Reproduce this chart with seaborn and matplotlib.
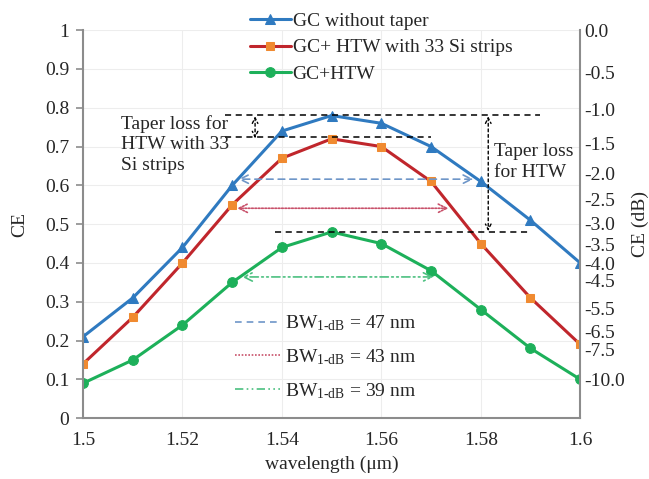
import numpy as np
import pandas as pd
import matplotlib
matplotlib.use("Agg")
import matplotlib.pyplot as plt
import seaborn as sns
from matplotlib.lines import Line2D

# ---- data ----
wavelength = [1.50, 1.51, 1.52, 1.53, 1.54, 1.55, 1.56, 1.57, 1.58, 1.59, 1.60]
ce_no_taper = [0.21, 0.31, 0.44, 0.60, 0.74, 0.78, 0.76, 0.70, 0.61, 0.51, 0.40]
ce_htw_strips = [0.14, 0.26, 0.40, 0.55, 0.67, 0.72, 0.70, 0.61, 0.45, 0.31, 0.19]
ce_htw = [0.09, 0.15, 0.24, 0.35, 0.44, 0.48, 0.45, 0.38, 0.28, 0.18, 0.10]
series_labels = ["GC without taper", "GC+ HTW with 33 Si strips", "GC+HTW"]

db_ticks = [0.0, -0.5, -1.0, -1.5, -2.0, -2.5, -3.0, -3.5, -4.0, -4.5, -5.5, -6.5, -7.5, -10.0]
x_ticks = [1.50, 1.52, 1.54, 1.56, 1.58, 1.60]
x_tick_labels = ["1.5", "1.52", "1.54", "1.56", "1.58", "1.6"]
y_ticks = [0, 0.1, 0.2, 0.3, 0.4, 0.5, 0.6, 0.7, 0.8, 0.9, 1.0]
y_tick_labels = ["0", "0.1", "0.2", "0.3", "0.4", "0.5", "0.6", "0.7", "0.8", "0.9", "1"]

# bandwidth arrows: (x_start, x_end, y)
bw_47 = (1.5312, 1.5785, 0.616)
bw_43 = (1.5310, 1.5735, 0.541)
bw_39 = (1.5320, 1.5705, 0.364)
bw_labels = [r"BW$_{\mathrm{1}\text{-}\mathrm{dB}}$ = 47 nm",
             r"BW$_{\mathrm{1}\text{-}\mathrm{dB}}$ = 43 nm",
             r"BW$_{\mathrm{1}\text{-}\mathrm{dB}}$ = 39 nm"]

# taper loss reference levels
level_top = 0.781
level_mid = 0.724
level_low = 0.479

# ---- style ----
sns.set_style("white")
plt.rcParams["font.family"] = ["Liberation Serif", "DejaVu Serif"]
plt.rcParams["mathtext.fontset"] = "custom"
plt.rcParams["mathtext.rm"] = "Liberation Serif"
plt.rcParams["mathtext.it"] = "Liberation Serif:italic"

blue = "#2F7AC0"
red = "#C0262C"
orange = "#F08A30"
green = "#1DB05A"
spine_c = "#8C8C8C"
grid_c = "#EDEDED"
FS = 14

fig = plt.figure(figsize=(6.49, 4.79), dpi=100)
ax = fig.add_axes([0.128, 0.127, 0.766, 0.810])

df = pd.DataFrame({"wl": wavelength, "a": ce_no_taper, "b": ce_htw_strips, "c": ce_htw})
sns.lineplot(data=df, x="wl", y="a", ax=ax, color=blue, lw=2.2, marker="^",
             markersize=6.5, markeredgecolor=blue, markerfacecolor=blue, label=series_labels[0])
sns.lineplot(data=df, x="wl", y="b", ax=ax, color=red, lw=2.2, marker="s",
             markersize=6, markeredgecolor=orange, markerfacecolor=orange, label=series_labels[1])
sns.lineplot(data=df, x="wl", y="c", ax=ax, color=green, lw=2.2, marker="o",
             markersize=7, markeredgecolor=green, markerfacecolor=green, label=series_labels[2])

ax.set_xlim(1.5, 1.6)
ax.set_ylim(0, 1)
ax.set_xticks(x_ticks)
ax.set_xticklabels(x_tick_labels, fontsize=FS)
ax.set_yticks(y_ticks)
ax.set_yticklabels(y_tick_labels, fontsize=FS)
ax.grid(True, color=grid_c, lw=0.8)
ax.set_axisbelow(True)
ax.set_xlabel("wavelength (\u03bcm)", fontsize=FS, labelpad=5)
ax.set_ylabel("CE", fontsize=FS, labelpad=12)
for s in ["top", "right"]:
    ax.spines[s].set_visible(False)
for s in ["left", "bottom"]:
    ax.spines[s].set_color(spine_c)
    ax.spines[s].set_linewidth(1.5)
ax.tick_params(axis="both", direction="out", length=5, width=1.2, color=spine_c, pad=5)

# twin axis in dB
ax2 = ax.twinx()
ax2.set_ylim(0, 1)
ax2.set_yticks([10 ** (d / 10) for d in db_ticks])
ax2.set_yticklabels([f"{d:.1f}" for d in db_ticks], fontsize=FS)
ax2.tick_params(axis="y", length=0, pad=3)
ax2.set_ylabel("CE (dB)", fontsize=FS, labelpad=5)
for s in ["top", "left", "bottom"]:
    ax2.spines[s].set_visible(False)
ax2.spines["right"].set_color(spine_c)
ax2.spines["right"].set_linewidth(1.5)

# series legend
h, l = ax.get_legend_handles_labels()
leg1 = ax.legend(h, l, loc="upper left", bbox_to_anchor=(0.32, 1.066), frameon=False,
                 fontsize=FS, handlelength=2.1, handletextpad=0.1, labelspacing=0.45,
                 borderaxespad=0)
ax.add_artist(leg1)

# taper loss dashed levels
ax.plot([1.5286, 1.5920], [level_top, level_top], ls=(0, (4, 3)), color="black", lw=1.1)
ax.plot([1.5286, 1.5700], [level_mid, level_mid], ls=(0, (4, 3)), color="black", lw=1.1)
ax.plot([1.5386, 1.5900], [level_low, level_low], ls=(0, (4, 3)), color="black", lw=1.1)
ax.annotate("", xy=(1.5346, level_mid - 0.003), xytext=(1.5346, level_top - 0.003),
            arrowprops=dict(arrowstyle="<->", ls=(0, (2, 2)), color="black", lw=1.0,
                            shrinkA=0, shrinkB=0))
ax.annotate("", xy=(1.5815, level_low + 0.003), xytext=(1.5815, level_top - 0.003),
            arrowprops=dict(arrowstyle="<->", ls=(0, (2, 2)), color="black", lw=1.0,
                            shrinkA=0, shrinkB=0))
ax.text(1.5076, 0.706, "Taper loss for\nHTW with 33\nSi strips", fontsize=FS,
        ha="left", va="center", linespacing=1.28)
ax.text(1.5826, 0.660, "Taper loss\nfor HTW", fontsize=FS, ha="left", va="center",
        linespacing=1.28)

# bandwidth arrows
bw_styles = [(bw_47, "#6E96C8", (0, (4, 3))), (bw_43, "#C8506A", (0, (1, 1))),
             (bw_39, "#4CC080", (0, (5, 2, 1, 2, 1, 2)))]
for (x0, x1, yv), c, ls in bw_styles:
    ax.annotate("", xy=(x0, yv), xytext=(x1, yv),
                arrowprops=dict(arrowstyle="<->,head_length=0.6,head_width=0.3", ls=ls,
                                color=c, lw=1.2, shrinkA=0, shrinkB=0))

bw_handles = [Line2D([], [], color=c, ls=ls, lw=1.2) for (_, c, ls) in bw_styles]
leg2 = ax.legend(bw_handles, bw_labels, loc="upper left", bbox_to_anchor=(0.29, 0.29),
                 frameon=False, fontsize=FS, handlelength=2.3, handletextpad=0.25,
                 labelspacing=0.72, borderaxespad=0)

fig.savefig("out.png", dpi=100)
